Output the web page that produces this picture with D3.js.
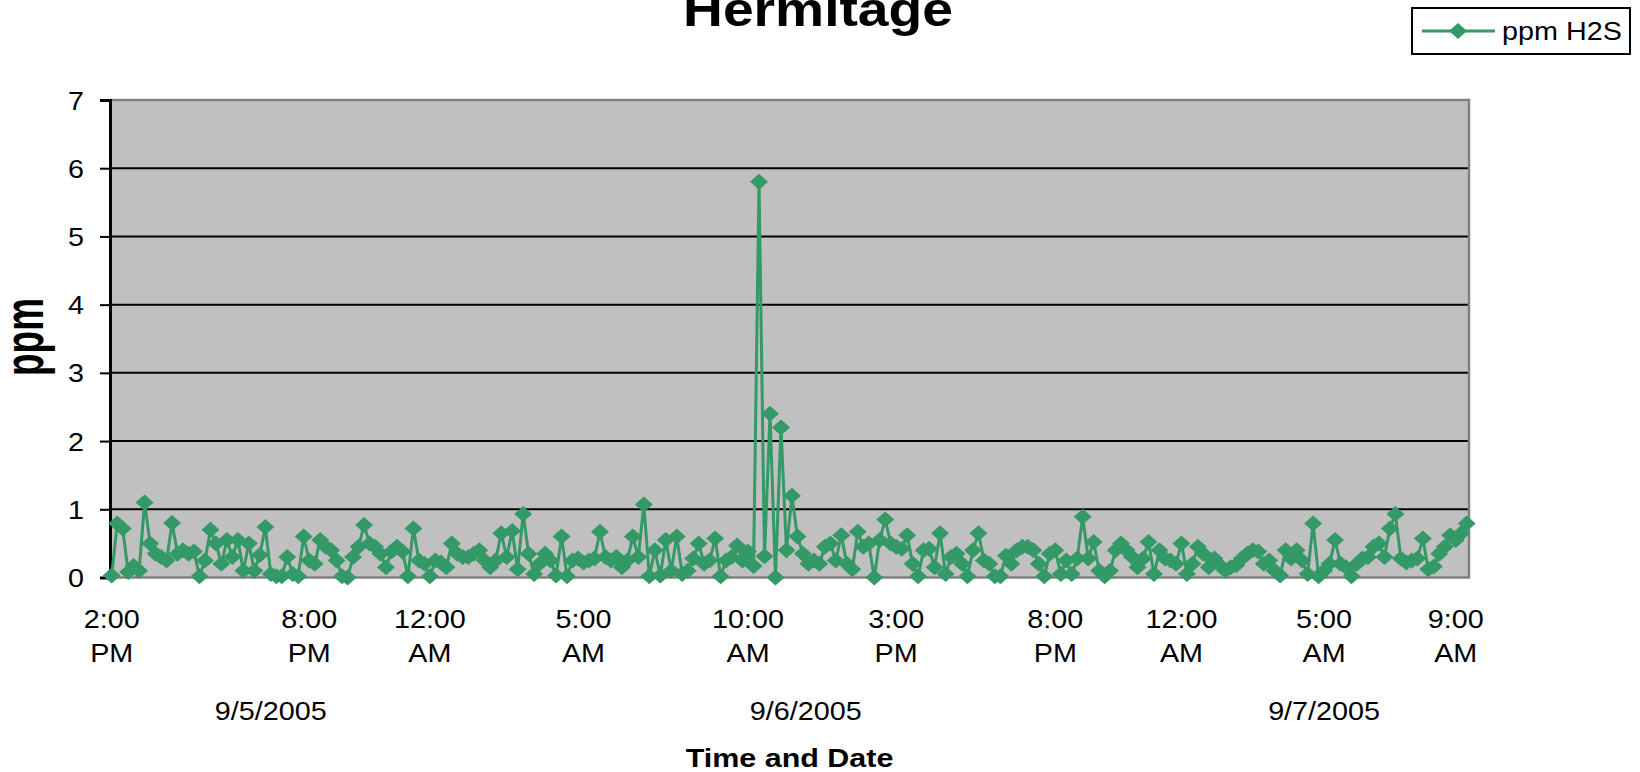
<!DOCTYPE html>
<html>
<head>
<meta charset="utf-8">
<title>Hermitage</title>
<script src="https://cdn.jsdelivr.net/npm/d3@7"></script>
<style>
  html, body { margin: 0; padding: 0; background: #ffffff; }
  svg { display: block; font-family: "Liberation Sans", Arial, sans-serif; }
</style>
</head>
<body>
<svg id="chart" width="1640" height="772"></svg>
<script>
// H2S readings (ppm), in time order from 2:00 PM on 9/5/2005 to 9:00 AM on 9/7/2005
const ppm = [
  0.03,0.79,0.72,0.08,0.17,0.1,1.1,0.5,0.35,0.3,0.25,0.8,0.35,0.4,0.35,0.38,0.02,0.25,0.7,0.5,
  0.2,0.55,0.3,0.55,0.1,0.5,0.1,0.33,0.74,0.05,0.02,0.02,0.3,0.05,0.02,0.6,0.25,0.2,0.55,0.45,
  0.4,0.25,0.02,0.0,0.3,0.45,0.77,0.5,0.45,0.35,0.15,0.38,0.45,0.38,0.02,0.72,0.25,0.2,0.02,0.25,
  0.22,0.15,0.5,0.35,0.3,0.3,0.35,0.4,0.25,0.15,0.25,0.65,0.3,0.68,0.12,0.93,0.35,0.05,0.2,0.35,
  0.25,0.03,0.6,
  0.02,0.25,0.28,0.22,0.25,0.28,0.67,0.3,0.25,0.3,0.15,0.25,0.6,0.3,1.07,0.02,0.4,0.03,0.55,0.1,
  0.6,0.05,0.1,0.28,0.5,0.2,0.25,0.57,0.02,0.25,0.3,0.47,0.25,0.38,0.17,5.8,0.31,2.4,0.0,2.2,
  0.4,1.2,
  0.6,0.35,0.2,0.25,0.2,0.45,0.5,0.25,0.62,0.2,0.12,0.67,0.45,0.5,0.0,0.55,0.85,0.5,0.45,0.42,
  0.62,0.2,0.02,0.4,0.42,0.15,0.65,0.05,0.3,0.35,0.2,0.02,0.4,0.65,0.25,0.2,0.02,0.02,0.32,0.2,
  0.4,0.45,
  0.45,0.4,0.2,0.02,0.35,0.4,0.05,0.25,0.05,0.28,0.89,0.28,0.52,0.1,0.02,0.1,0.4,0.5,0.4,0.3,
  0.15,0.28,0.52,0.05,0.4,0.28,0.25,0.2,0.5,0.05,0.2,0.45,0.35,0.15,0.28,0.18,0.1,0.15,0.18,0.28,
  0.35,0.4,
  0.38,0.2,0.25,0.1,0.03,0.4,0.28,0.4,0.25,0.05,0.79,0.02,0.1,0.2,0.55,0.2,0.15,0.02,0.2,0.28,
  0.3,0.45,0.5,0.3,0.72,0.93,0.28,0.22,0.25,0.28,0.57,0.12,0.16,0.35,0.45,0.62,0.55,0.65,0.79
];

// value axis ticks
const yTicks = [0, 1, 2, 3, 4, 5, 6, 7];

// labelled readings on the category axis (reading number, time, AM/PM)
const timeTickIndex = [0, 36, 58, 86, 116, 143, 172, 195, 221, 245];
const timeTickHour = ["2:00", "8:00", "12:00", "5:00", "10:00", "3:00", "8:00", "12:00", "5:00", "9:00"];
const timeTickMeridiem = ["PM", "PM", "AM", "AM", "AM", "PM", "PM", "AM", "AM", "AM"];

// outer date level: first reading of each day
const dates = ["9/5/2005", "9/6/2005", "9/7/2005"];
const dateStartIndex = [0, 58, 195];

const chartTitle = "Hermitage";
const xTitle = "Time and Date";
const yTitle = "ppm";
const seriesName = "ppm H2S";

// ---- layout ----
const plot = { left: 110, right: 1469, top: 100, bottom: 577.5 };
const SX = 1.15;              // horizontal stretch of the lettering
const GREEN = "#339966";
const FONT = "'Liberation Sans', Arial, sans-serif";

const svg = d3.select("#chart");

const x = d3.scaleLinear()
  .domain([0, ppm.length - 1])
  .range([plot.left + 1.7, plot.right - 2.3]);

const y = d3.scaleLinear()
  .domain([0, 7])
  .range([plot.bottom, plot.top]);

// text drawn with the chart's wide lettering
function label(parent, px, py, str, size, opts = {}) {
  const sx = opts.sx || SX;
  return parent.append("text")
    .attr("transform", `translate(${px},${py}) scale(${sx},1)` + (opts.rotate ? ` rotate(${opts.rotate})` : ""))
    .attr("text-anchor", opts.anchor || "middle")
    .attr("font-family", FONT)
    .attr("font-size", size)
    .attr("font-weight", opts.bold ? "bold" : "normal")
    .attr("fill", "#000")
    .text(str);
}

// ---- plot area ----
svg.append("rect")
  .attr("x", plot.left).attr("y", plot.top)
  .attr("width", plot.right - plot.left).attr("height", plot.bottom - plot.top)
  .attr("fill", "#c0c0c0");

// horizontal gridlines
svg.append("g").selectAll("line")
  .data(yTicks.filter(d => d > 0 && d < 7))
  .join("line")
  .attr("x1", plot.left).attr("x2", plot.right)
  .attr("y1", d => y(d)).attr("y2", d => y(d))
  .attr("stroke", "#000").attr("stroke-width", 2);

// plot-area border (grey)
svg.append("path")
  .attr("d", `M${plot.left},${plot.top}H${plot.right}V${plot.bottom}H${plot.left}`)
  .attr("fill", "none").attr("stroke", "#808080").attr("stroke-width", 2.5);

// value axis
const yAxis = d3.axisLeft(y)
  .tickValues(yTicks)
  .tickSize(10)
  .tickPadding(0)
  .tickFormat(d3.format("d"));

const yAxisG = svg.append("g")
  .attr("transform", `translate(${plot.left},0)`)
  .call(yAxis);
yAxisG.select(".domain").attr("stroke", "#000").attr("stroke-width", 3);
yAxisG.selectAll(".tick line").attr("stroke", "#000").attr("stroke-width", 2);
yAxisG.selectAll(".tick text").remove();
yAxisG.selectAll(".tick").each(function (d) {
  label(d3.select(this), -26, 9, d3.format("d")(d), 25, { anchor: "end" });
});

// category axis labels
const xLab = svg.append("g");
timeTickIndex.forEach((idx, i) => {
  label(xLab, x(idx), 628, timeTickHour[i], 25);
  label(xLab, x(idx), 662, timeTickMeridiem[i], 25);
});
dates.forEach((d, i) => {
  const a = dateStartIndex[i];
  const b = i + 1 < dateStartIndex.length ? dateStartIndex[i + 1] : ppm.length - 1;
  label(xLab, (x(a) + x(b)) / 2, 720, d, 25);
});

// series line and diamond markers
const line = d3.line()
  .x((d, i) => x(i))
  .y(d => y(d));

svg.append("path")
  .datum(ppm)
  .attr("d", line)
  .attr("fill", "none")
  .attr("stroke", GREEN)
  .attr("stroke-width", 3)
  .attr("stroke-linejoin", "round");

const diamond = "M0,-8L9,0L0,8L-9,0Z";
svg.append("g").selectAll("path")
  .data(ppm)
  .join("path")
  .attr("transform", (d, i) => `translate(${x(i)},${y(d)})`)
  .attr("d", diamond)
  .attr("fill", GREEN);

// titles
label(svg, 818, 26, chartTitle, 48, { bold: true });
label(svg, (plot.left + plot.right) / 2, 767, xTitle, 26.5, { bold: true });
label(svg, 43, 337, yTitle, 37, { bold: true, rotate: -90, sx: 1.5 });

// legend
const lg = svg.append("g");
lg.append("rect")
  .attr("x", 1412).attr("y", 8).attr("width", 218).attr("height", 46)
  .attr("fill", "#fff").attr("stroke", "#000").attr("stroke-width", 2);
lg.append("line")
  .attr("x1", 1422).attr("x2", 1495).attr("y1", 31).attr("y2", 31)
  .attr("stroke", GREEN).attr("stroke-width", 3);
lg.append("path")
  .attr("transform", "translate(1458,31)")
  .attr("d", diamond)
  .attr("fill", GREEN);
label(lg, 1502, 40, seriesName, 25, { anchor: "start" });
</script>
</body>
</html>
